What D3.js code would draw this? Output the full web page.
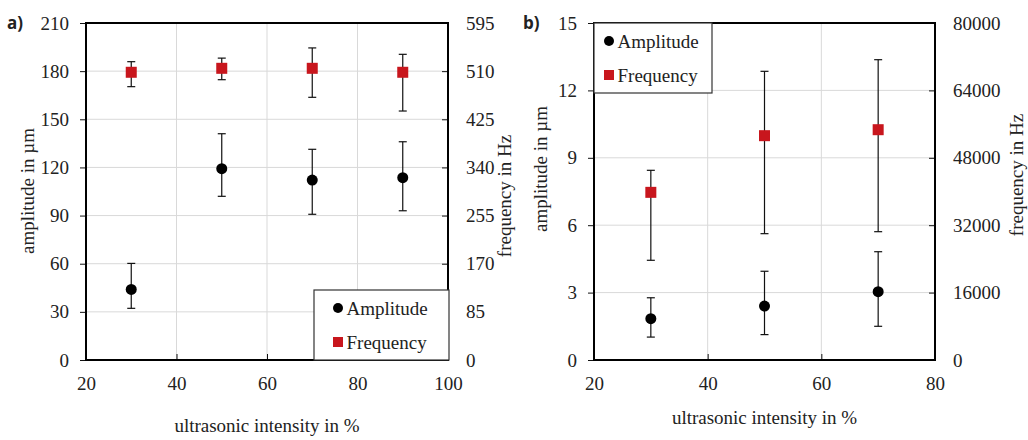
<!DOCTYPE html>
<html lang="en">
<head>
<meta charset="UTF-8">
<title>amplitude and frequency</title>
<style>
  body { margin: 0; background: #fff; }
</style>
</head>
<body>
<div id="chart"></div>
<script src="https://cdnjs.cloudflare.com/ajax/libs/d3/7.8.5/d3.min.js"></script>
<script>
// panel a)
const intensityA = [30, 50, 70, 90];
const amplitudeA = [44.0, 119.2, 112.1, 113.6];
const amplitudeALow = [32.2, 102, 90.8, 93];
const amplitudeAHigh = [60.2, 141, 131.3, 136];
const frequencyA = [508, 515, 515, 508];
const frequencyALow = [482.6, 494.9, 463.8, 439.6];
const frequencyAHigh = [526.7, 533, 551, 539.7];
const xTicksA = [20, 40, 60, 80, 100];
const ampTicksA = [0, 30, 60, 90, 120, 150, 180, 210];
const freqTicksA = [0, 85, 170, 255, 340, 425, 510, 595];

// panel b)
const intensityB = [30, 50, 70];
const amplitudeB = [1.84, 2.40, 3.04];
const amplitudeBLow = [1.02, 1.13, 1.50];
const amplitudeBHigh = [2.77, 3.95, 4.82];
const frequencyB = [39800, 53250, 54670];
const frequencyBLow = [23670, 29990, 30460];
const frequencyBHigh = [45030, 68530, 71290];
const xTicksB = [20, 40, 60, 80];
const ampTicksB = [0, 3, 6, 9, 12, 15];
const freqTicksB = [0, 16000, 32000, 48000, 64000, 80000];

const seriesNames = ['Amplitude', 'Frequency'];
const red = '#c8161d';
const serif = '"Liberation Serif", "DejaVu Serif", serif';

const svg = d3.select('#chart').append('svg')
  .attr('width', 1028).attr('height', 440);

function zip(xs, m, lo, hi) {
  return xs.map((x, i) => ({x: x, m: m[i], lo: lo[i], hi: hi[i]}));
}

function serifText(sel) {
  sel.attr('font-family', serif).style('font-family', serif)
    .style('font-size', '19px').attr('fill', '#222');
}

function panel(p) {
  const g = svg.append('g');
  const x = d3.scaleLinear().domain(d3.extent(p.xTicks)).range([p.left, p.right]);
  const yA = d3.scaleLinear().domain(d3.extent(p.ampTicks)).range([p.bottom, p.top]);
  const yF = d3.scaleLinear().domain(d3.extent(p.freqTicks)).range([p.bottom, p.top]);

  // grid
  g.selectAll('.hg').data(p.ampTicks.slice(1, -1)).join('line')
    .attr('x1', p.left).attr('x2', p.right)
    .attr('y1', d => yA(d)).attr('y2', d => yA(d))
    .attr('stroke', '#d9d9d9').attr('stroke-width', 1);
  g.selectAll('.vg').data(p.xTicks.slice(1, -1)).join('line')
    .attr('y1', p.top).attr('y2', p.bottom)
    .attr('x1', d => x(d)).attr('x2', d => x(d))
    .attr('stroke', '#d9d9d9').attr('stroke-width', 1);

  // axes
  const fmt = d3.format('d');
  const cleanup = a => {
    a.attr('font-family', serif);
    a.select('.domain').remove();
    a.selectAll('text').call(serifText);
    a.selectAll('line').attr('stroke', '#111');
  };
  g.append('g').attr('transform', `translate(${p.left},0)`)
    .call(d3.axisLeft(yA).tickValues(p.ampTicks).tickFormat(fmt).tickSize(6).tickPadding(11))
    .call(cleanup);
  g.append('g').attr('transform', `translate(${p.right},0)`)
    .call(d3.axisRight(yF).tickValues(p.freqTicks).tickFormat(fmt).tickSize(-6).tickPadding(18))
    .call(cleanup);
  g.append('g').attr('transform', `translate(0,${p.bottom})`)
    .call(d3.axisBottom(x).tickValues(p.xTicks).tickFormat(fmt).tickSize(-6).tickPadding(17))
    .call(cleanup);

  // frame
  g.append('rect')
    .attr('x', p.left).attr('y', p.top)
    .attr('width', p.right - p.left).attr('height', p.bottom - p.top)
    .attr('fill', 'none').attr('stroke', '#000').attr('stroke-width', 2);

  // error bars
  const bars = [[p.freq, yF], [p.amp, yA]];
  bars.forEach(([data, y]) => {
    const eb = g.append('g').attr('stroke', '#111').attr('stroke-width', 1.2);
    eb.selectAll('.v').data(data).join('line')
      .attr('x1', d => x(d.x)).attr('x2', d => x(d.x))
      .attr('y1', d => y(d.lo)).attr('y2', d => y(d.hi));
    ['lo', 'hi'].forEach(k => {
      eb.selectAll('.c' + k).data(data).join('line')
        .attr('x1', d => x(d.x) - 4).attr('x2', d => x(d.x) + 4)
        .attr('y1', d => y(d[k])).attr('y2', d => y(d[k]));
    });
  });

  // markers
  g.selectAll('.sq').data(p.freq).join('rect')
    .attr('x', d => x(d.x) - 5.5).attr('y', d => yF(d.m) - 5.5)
    .attr('width', 11).attr('height', 11).attr('fill', red);
  g.selectAll('.dot').data(p.amp).join('circle')
    .attr('cx', d => x(d.x)).attr('cy', d => yA(d.m)).attr('r', 5.5).attr('fill', '#000');

  // legend
  const lg = g.append('g');
  lg.append('rect')
    .attr('x', p.legend[0]).attr('y', p.legend[1])
    .attr('width', p.legend[2]).attr('height', p.legend[3])
    .attr('fill', '#fff').attr('stroke', '#333').attr('stroke-width', 1.2);
  const lx = p.legend[0] + p.legendPad;
  lg.append('circle').attr('cx', lx + 5).attr('cy', p.legend[1] + 18).attr('r', 5).attr('fill', '#000');
  lg.append('rect').attr('x', lx).attr('y', p.legend[1] + 47).attr('width', 10).attr('height', 10).attr('fill', red);
  lg.selectAll('.lt').data(seriesNames).join('text')
    .attr('x', lx + 13.5).attr('y', (d, i) => p.legend[1] + 18 + i * 34)
    .attr('dy', '0.35em').call(serifText).text(d => d);

  // titles
  g.append('text')
    .attr('transform', `translate(${p.ampTitle[0]},${p.ampTitle[1]}) rotate(-90)`)
    .attr('text-anchor', 'middle').attr('dy', '0.35em').call(serifText)
    .text('amplitude in µm');
  g.append('text')
    .attr('transform', `translate(${p.freqTitle[0]},${p.freqTitle[1]}) rotate(-90)`)
    .attr('text-anchor', 'middle').attr('dy', '0.35em').call(serifText)
    .text('frequency in Hz');
  g.append('text')
    .attr('x', (p.left + p.right) / 2).attr('y', p.xTitleY)
    .attr('text-anchor', 'middle').call(serifText)
    .text('ultrasonic intensity in %');
  g.append('text')
    .attr('x', p.tag[0]).attr('y', p.tag[1])
    .style('font-family', '"Open Sans", "Liberation Sans", sans-serif')
    .style('font-weight', 'bold').style('font-size', '17px').attr('fill', '#222')
    .text(p.label);
}

panel({
  label: 'a)', tag: [7, 29],
  left: 86, right: 448, top: 23, bottom: 360,
  xTicks: xTicksA, ampTicks: ampTicksA, freqTicks: freqTicksA,
  amp: zip(intensityA, amplitudeA, amplitudeALow, amplitudeAHigh),
  freq: zip(intensityA, frequencyA, frequencyALow, frequencyAHigh),
  legend: [314, 290, 135, 70], legendPad: 19,
  ampTitle: [27, 191], freqTitle: [504, 196], xTitleY: 432
});

panel({
  label: 'b)', tag: [523, 29],
  left: 594, right: 935, top: 23, bottom: 360,
  xTicks: xTicksB, ampTicks: ampTicksB, freqTicks: freqTicksB,
  amp: zip(intensityB, amplitudeB, amplitudeBLow, amplitudeBHigh),
  freq: zip(intensityB, frequencyB, frequencyBLow, frequencyBHigh),
  legend: [594, 23, 118, 70], legendPad: 10,
  ampTitle: [540, 169], freqTitle: [1016, 175], xTitleY: 424
});
</script>
</body>
</html>
